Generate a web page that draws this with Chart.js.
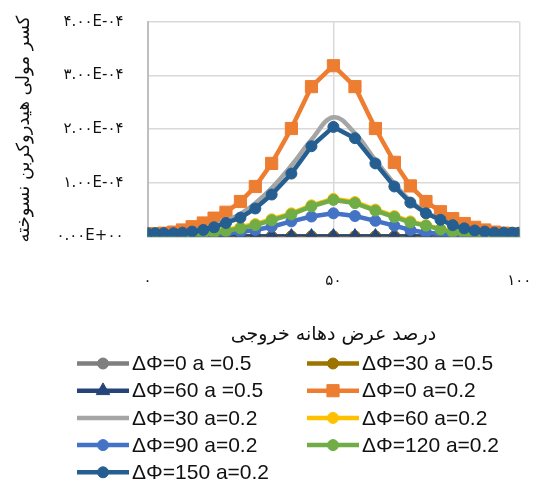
<!DOCTYPE html>
<html>
<head>
<meta charset="utf-8">
<script src="https://cdn.jsdelivr.net/npm/chart.js@4.4.1/dist/chart.umd.min.js"></script>
<style>
  html, body { margin: 0; padding: 0; background: #fff; }
  canvas { display: block; }
</style>
</head>
<body>
<canvas id="chart" width="534" height="480"></canvas>
<script>
// Outlet-width percentage (x) shared by every series
const widthPct = [0, 2.1, 4.4, 7.0, 9.4, 12.0, 15.0, 17.9, 21.1, 25.0, 29.0, 33.4, 38.7, 44.1, 50,
                  55.8, 61.3, 66.4, 70.7, 74.9, 78.8, 82.1, 85.2, 88.0, 90.7, 93.3, 95.8, 98.1, 100];

// Unburned hydrocarbon mole fraction per case
const dphi0_a05  = [0, 0, 0, 0, 0, 0, 0, 0, 0, 0, 0, 0, 0, 0, 0, 0, 0, 0, 0, 0, 0, 0, 0, 0, 0, 0, 0, 0, 0];
const dphi30_a05 = [0, 0, 0, 0, 0, 0, 0, 0, 0, 0, 0, 0, 0, 0, 0, 0, 0, 0, 0, 0, 0, 0, 0, 0, 0, 0, 0, 0, 0];
const dphi60_a05 = [0, 0, 0, 0, 0, 0, 0, 0, 0, 0, 0, 0, 0, 0, 0, 0, 0, 0, 0, 0, 0, 0, 0, 0, 0, 0, 0, 0, 0];
const dphi0_a02  = [0.05e-4, 0.05e-4, 0.06e-4, 0.08e-4, 0.12e-4, 0.18e-4, 0.25e-4, 0.34e-4, 0.45e-4, 0.65e-4,
                    0.93e-4, 1.36e-4, 2.01e-4, 2.79e-4, 3.18e-4, 2.79e-4, 2.01e-4, 1.38e-4, 0.94e-4, 0.65e-4,
                    0.46e-4, 0.33e-4, 0.24e-4, 0.17e-4, 0.12e-4, 0.08e-4, 0.06e-4, 0.05e-4, 0.05e-4];
const dphi30_a02 = [0.06e-4, 0.06e-4, 0.06e-4, 0.07e-4, 0.08e-4, 0.10e-4, 0.14e-4, 0.20e-4, 0.29e-4, 0.42e-4,
                    0.62e-4, 0.90e-4, 1.32e-4, 1.80e-4, 2.22e-4, 1.92e-4, 1.42e-4, 0.98e-4, 0.66e-4, 0.45e-4,
                    0.32e-4, 0.22e-4, 0.16e-4, 0.12e-4, 0.09e-4, 0.07e-4, 0.07e-4, 0.07e-4, 0.07e-4];
const dphi60_a02 = [0.04e-4, 0.04e-4, 0.04e-4, 0.04e-4, 0.04e-4, 0.05e-4, 0.06e-4, 0.08e-4, 0.12e-4, 0.17e-4,
                    0.23e-4, 0.32e-4, 0.43e-4, 0.58e-4, 0.70e-4, 0.64e-4, 0.50e-4, 0.38e-4, 0.28e-4, 0.21e-4,
                    0.14e-4, 0.09e-4, 0.06e-4, 0.05e-4, 0.04e-4, 0.04e-4, 0.04e-4, 0.04e-4, 0.04e-4];
const dphi90_a02 = [0.02e-4, 0.02e-4, 0.02e-4, 0.02e-4, 0.02e-4, 0.03e-4, 0.03e-4, 0.04e-4, 0.06e-4, 0.08e-4,
                    0.12e-4, 0.18e-4, 0.28e-4, 0.37e-4, 0.43e-4, 0.38e-4, 0.29e-4, 0.20e-4, 0.12e-4, 0.07e-4,
                    0.05e-4, 0.03e-4, 0.02e-4, 0.02e-4, 0.02e-4, 0.02e-4, 0.02e-4, 0.02e-4, 0.02e-4];
const dphi120_a02 = [0.03e-4, 0.03e-4, 0.03e-4, 0.03e-4, 0.03e-4, 0.04e-4, 0.05e-4, 0.07e-4, 0.10e-4, 0.15e-4,
                     0.21e-4, 0.30e-4, 0.41e-4, 0.56e-4, 0.68e-4, 0.62e-4, 0.48e-4, 0.36e-4, 0.26e-4, 0.20e-4,
                     0.13e-4, 0.08e-4, 0.05e-4, 0.04e-4, 0.03e-4, 0.03e-4, 0.03e-4, 0.03e-4, 0.03e-4];
const dphi150_a02 = [0.06e-4, 0.06e-4, 0.06e-4, 0.06e-4, 0.07e-4, 0.09e-4, 0.12e-4, 0.17e-4, 0.25e-4, 0.35e-4,
                     0.52e-4, 0.78e-4, 1.17e-4, 1.68e-4, 2.04e-4, 1.83e-4, 1.36e-4, 0.93e-4, 0.63e-4, 0.43e-4,
                     0.31e-4, 0.21e-4, 0.15e-4, 0.11e-4, 0.09e-4, 0.07e-4, 0.07e-4, 0.07e-4, 0.07e-4];

const seriesNames = ['ΔΦ=0 a =0.5', 'ΔΦ=30 a =0.5', 'ΔΦ=60 a =0.5', 'ΔΦ=0 a=0.2', 'ΔΦ=30 a=0.2',
                     'ΔΦ=60 a=0.2', 'ΔΦ=90 a=0.2', 'ΔΦ=120 a=0.2', 'ΔΦ=150 a=0.2'];
const seriesValues = [dphi0_a05, dphi30_a05, dphi60_a05, dphi0_a02, dphi30_a02,
                      dphi60_a02, dphi90_a02, dphi120_a02, dphi150_a02];

// Axis ticks and titles
const xTickValues = [0, 50, 100];
const xTickLabels = ['۰', '۵۰', '۱۰۰'];
const yTickValues = [0, 1e-4, 2e-4, 3e-4, 4e-4];
const yTickLabels = ['۰.۰۰E+۰۰', '۱.۰۰E-۰۴', '۲.۰۰E-۰۴', '۳.۰۰E-۰۴', '۴.۰۰E-۰۴'];
const xTitle = 'درصد عرض دهانه خروجی';
const yTitle = 'کسر مولی هیدروکربن نسوخته';

// Styling per series
const seriesColors  = ['#7f7f7f', '#9c7400', '#264478', '#ed7d31', '#a5a5a5',
                       '#ffc000', '#4472c4', '#70ad47', '#255e91'];
const seriesMarkers = ['circle', 'circle', 'triangle', 'rect', null,
                       'circle', 'circle', 'circle', 'circle'];
const markerRadius = { circle: 5.5, rect: 8.6, triangle: 7.8 };

const persianFont = 'DejaVu Sans';
const latinFont = '"Liberation Sans", Arial, sans-serif';

const datasets = seriesNames.map((name, i) => {
  const marker = seriesMarkers[i];
  return {
    label: name,
    data: widthPct.map((x, k) => ({ x: x, y: seriesValues[i][k] })),
    borderColor: seriesColors[i],
    backgroundColor: seriesColors[i],
    borderWidth: 4.5,
    pointStyle: marker || 'circle',
    pointRadius: marker ? markerRadius[marker] : 0,
    pointBorderWidth: 1,
    pointBorderColor: seriesColors[i],
    pointBackgroundColor: seriesColors[i],
    tension: marker ? 0 : 0.4,
    showLine: true,
    fill: false,
    // later series are painted above earlier ones
    order: seriesNames.length - 1 - i
  };
});

// Two-column legend beneath the axis title
const gridLegend = {
  id: 'gridLegend',
  afterDraw(chart) {
    const ctx = chart.ctx;
    const colX = [77, 307];
    const top = 363.5, rowGap = 27.2, lineLen = 52;
    ctx.save();
    chart.data.datasets.forEach((ds, i) => {
      const x0 = colX[i % 2];
      const y = top + Math.floor(i / 2) * rowGap;
      ctx.strokeStyle = ds.borderColor;
      ctx.lineWidth = 4.5;
      ctx.lineCap = 'butt';
      ctx.beginPath();
      ctx.moveTo(x0, y);
      ctx.lineTo(x0 + lineLen, y);
      ctx.stroke();
      if (ds.pointRadius > 0) {
        ctx.fillStyle = ds.pointBackgroundColor;
        ctx.strokeStyle = ds.pointBorderColor;
        ctx.lineWidth = 1;
        Chart.helpers.drawPoint(ctx, {
          pointStyle: ds.pointStyle, rotation: 0,
          radius: ds.pointRadius, borderWidth: 1
        }, x0 + lineLen / 2, y);
      }
      ctx.fillStyle = '#111';
      ctx.font = '21px ' + latinFont;
      ctx.textAlign = 'left';
      ctx.textBaseline = 'middle';
      ctx.fillText(ds.label, x0 + lineLen + 3, y + 1);
    });
    ctx.restore();
  }
};

new Chart(document.getElementById('chart'), {
  type: 'scatter',
  data: { datasets: datasets },
  plugins: [gridLegend],
  options: {
    responsive: false,
    animation: false,
    devicePixelRatio: 1,
    layout: { padding: { top: 21.7, right: 14.7, bottom: 130, left: 0 } },
    plugins: { legend: { display: false }, tooltip: { enabled: false } },
    scales: {
      x: {
        type: 'linear', min: 0, max: 100,
        afterBuildTicks: s => { s.ticks = xTickValues.map(v => ({ value: v })); },
        afterFit: s => { s.height = 350 - 236.4; },
        grid: { color: '#d9d9d9', lineWidth: 1.5, drawTicks: true, tickLength: 36, tickColor: 'rgba(0,0,0,0)' },
        border: { display: true, color: '#bfbfbf', width: 1.5 },
        ticks: {
          padding: 0, color: '#111', maxRotation: 0, autoSkip: false,
          font: { family: persianFont, size: 15 },
          callback: (v, i) => xTickLabels[i]
        },
        title: {
          display: true, text: xTitle, color: '#111',
          font: { family: persianFont, size: 19 },
          padding: { top: 0, bottom: 4 }
        }
      },
      y: {
        type: 'linear', min: 0, max: 4e-4,
        afterBuildTicks: s => { s.ticks = yTickValues.map(v => ({ value: v })); },
        afterFit: s => { s.width = 147.5; },
        grid: { color: '#d9d9d9', lineWidth: 1.5, drawTicks: true, tickLength: 24, tickColor: 'rgba(0,0,0,0)' },
        border: { display: true, color: '#bfbfbf', width: 2 },
        ticks: {
          padding: 0, color: '#111',
          font: { family: persianFont, size: 15 },
          callback: (v, i) => yTickLabels[i]
        },
        title: {
          display: true, text: yTitle, color: '#111',
          font: { family: persianFont, size: 18 },
          padding: { top: 14, bottom: 0 }
        }
      }
    }
  }
});
</script>
</body>
</html>
